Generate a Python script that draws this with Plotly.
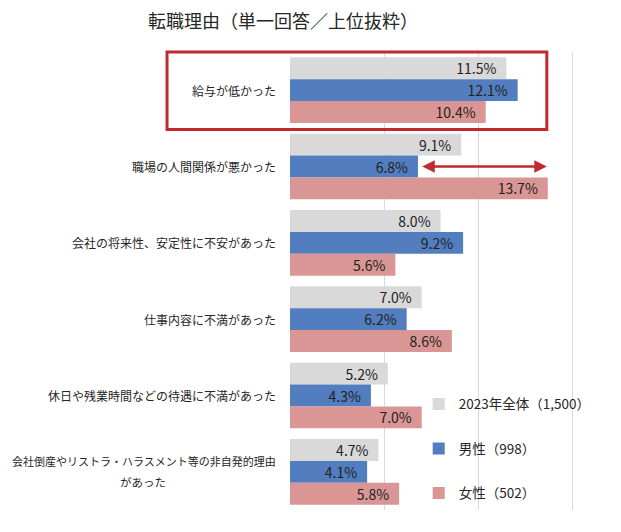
import plotly.graph_objects as go

categories = [
    "給与が低かった",
    "職場の人間関係が悪かった",
    "会社の将来性、安定性に不安があった",
    "仕事内容に不満があった",
    "休日や残業時間などの待遇に不満があった",
    "会社倒産やリストラ・ハラスメント等の非自発的理由<br>があった",
]
total_2023 = [11.5, 9.1, 8.0, 7.0, 5.2, 4.7]
male = [12.1, 6.8, 9.2, 6.2, 4.3, 4.1]
female = [10.4, 13.7, 5.6, 8.6, 7.0, 5.8]
series_names = ["2023年全体（1,500）", "男性（998）", "女性（502）"]
colors = ["#d9d9d9", "#527dbf", "#d99694"]
title_text = "転職理由（単一回答／上位抜粋）"

FONT = "Noto Sans CJK JP, Meiryo, sans-serif"

# page has an 8px body margin; figure is sized to fit the 621x532 window
W, H = 613, 524
OFF = 8

fig = go.Figure()
for i, (name, vals) in enumerate(zip(series_names, [total_2023, male, female])):
    fig.add_trace(go.Bar(
        y=categories, x=vals, name=name, orientation="h",
        marker=dict(color=colors[i], line=dict(width=0)),
        texttemplate="%{x:.1f}%\u2002", textposition="inside",
        insidetextanchor="end", constraintext="none",
        textfont=dict(family=FONT, size=14, color="#222222"),
        legendgroup=f"g{i}", cliponaxis=False,
    ))

annotations = []
for c in categories:
    lines = c.split("<br>")
    if len(lines) == 1:
        annotations.append(dict(
            x=0, xref="paper", xanchor="right", xshift=-12,
            y=c, yref="y", yanchor="middle",
            text=c, showarrow=False,
            font=dict(family=FONT, size=12, color="#262626"),
        ))
    else:
        annotations.append(dict(
            x=0, xref="paper", xanchor="right", xshift=-12,
            y=c, yref="y", yanchor="middle", yshift=11,
            text=lines[0], showarrow=False,
            font=dict(family=FONT, size=11, color="#262626"),
        ))
        annotations.append(dict(
            x=-0.514, xref="paper", xanchor="center",
            y=c, yref="y", yanchor="middle", yshift=-10,
            text=lines[1], showarrow=False,
            font=dict(family=FONT, size=11.5, color="#262626"),
        ))
# double-headed arrow highlighting gap
annotations.append(dict(
    x=female[1] - 0.05, xref="x", y=categories[1], yref="y",
    ax=male[1] + 0.15, axref="x", ay=0, ayref="pixel",
    text="", showarrow=True, arrowhead=2, startarrowhead=2,
    arrowside="end+start", arrowsize=1, startarrowsize=1, arrowwidth=2.5,
    arrowcolor="#c0292d",
))

fig.update_layout(
    width=W, height=H,
    margin=dict(l=290 - OFF, r=45, t=52 - OFF, b=22),
    paper_bgcolor="white", plot_bgcolor="white",
    title=dict(text=title_text, x=(148 - OFF) / W, xanchor="left", xref="container",
               y=1 - (22 - OFF) / H, yanchor="middle", yref="container",
               font=dict(family=FONT, size=18, color="#262626")),
    barmode="group", bargap=0.14, bargroupgap=0,
    xaxis=dict(range=[0, 15.2], tickvals=[5, 10, 15], showgrid=True,
               gridcolor="#d9d9d9", gridwidth=1, showticklabels=False,
               zeroline=False, showline=False, ticks=""),
    yaxis=dict(autorange="reversed", showticklabels=False, ticks="",
               showgrid=False, showline=False),
    legend=dict(x=0.45, xanchor="left", y=0.265, yanchor="top",
                bgcolor="rgba(0,0,0,0)", tracegroupgap=24, itemwidth=30,
                font=dict(family=FONT, size=13.5, color="#262626")),
    annotations=annotations,
    shapes=[dict(type="rect", xref="paper", yref="paper",
                 x0=-0.43, x1=0.898, y0=0.831, y1=1.0,
                 line=dict(color="#c0292d", width=3))],
    showlegend=True,
)

fig.write_html("out.html")
